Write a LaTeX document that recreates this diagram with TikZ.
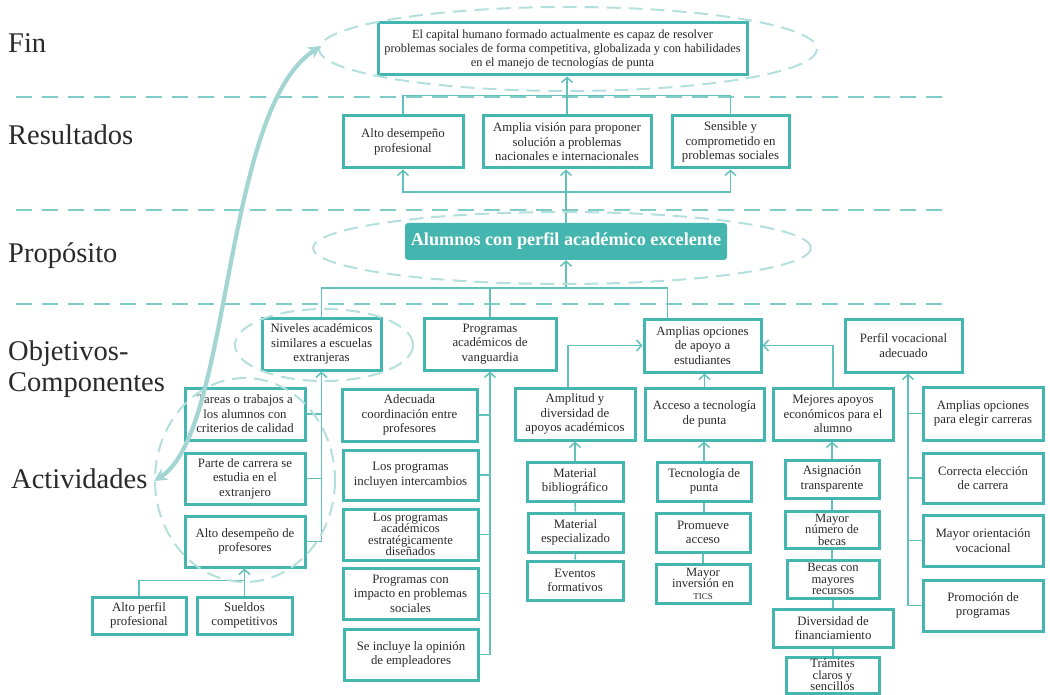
\documentclass[tikz,border=0pt]{standalone}
\usepackage{fontspec}
\setmainfont{Liberation Serif}
\usetikzlibrary{arrows.meta,calc}
\definecolor{boxline}{HTML}{45B6AF}
\definecolor{linkc}{HTML}{62C1BB}
\definecolor{sepc}{HTML}{7ECDC8}
\definecolor{ringc}{HTML}{B3DFDC}
\definecolor{bigc}{HTML}{A3D5D3}
\definecolor{ink}{HTML}{2A2A2A}
\begin{document}
\begin{tikzpicture}[x=1pt,y=-1pt,
  box/.style={draw=boxline,line width=3pt,fill=white,text=ink,align=center,
    inner sep=1pt,font=\fontsize{12.8}{14.5}\selectfont},
  tight/.style={font=\fontsize{12.6}{11.5}\selectfont},
  wh/.style 2 args={minimum width=#1,minimum height=#2},
  conn/.style={draw=linkc,line width=1.5pt},
  arr/.style={-{Straight Barb[length=5pt,width=11pt]}},
  sep/.style={draw=sepc,line width=2.8pt,dash pattern=on 16pt off 10pt},
  ring/.style={draw=ringc,line width=2pt,dash pattern=on 14pt off 8pt},
  lab/.style={font=\fontsize{28.5}{30}\selectfont,text=ink,anchor=base west,inner sep=0pt},
  bigarrow/.style={draw=bigc,line width=4.2pt,
    {Stealth[length=13pt,width=13pt]}-{Stealth[length=13pt,width=13pt]}}
]
\useasboundingbox (0,0) rectangle (1050,695);

% level separators
\foreach \yy in {97,210,304} \draw[sep] (16,\yy) -- (946,\yy);

% level names
\node[lab] (tFin) at (8,53) {Fin};
\node[lab] (tRes) at (8,145) {Resultados};
\node[lab] (tProp) at (8,263) {Propósito};
\node[lab] (tObj) at (8,360) {Objetivos-};
\node[lab] (tComp) at (8,391) {Componentes};
\node[lab] (tAct) at (11,488) {Actividades};

% goal
\node[box,wh={369}{52},font=\fontsize{12.4}{14}\selectfont] (fin) at (562.5,49)
  {El capital humano formado actualmente es capaz de resolver\\problemas sociales de forma competitiva, globalizada y con habilidades\\en el manejo de tecnologías de punta};

% results
\node[box,wh={120}{52}] (res1) at (403,142) {Alto desempeño\\profesional};
\node[box,wh={168}{52}] (res2) at (567,142) {Amplia visión para proponer\\solución a problemas\\nacionales e internacionales};
\node[box,wh={117}{52}] (res3) at (730.5,142) {Sensible y\\comprometido en\\problemas sociales};

% purpose
\node[fill=boxline,rounded corners=3pt,text=white,wh={322}{37},
  font=\fontsize{18.2}{20}\selectfont\bfseries] (prop) at (566,241.5)
  {Alumnos con perfil académico excelente};

% components
\node[box,wh={119}{52}] (obj1) at (321.5,344) {Niveles académicos\\similares a escuelas\\extranjeras};
\node[box,wh={132}{52}] (obj2) at (490,344) {Programas\\académicos de\\vanguardia};
\node[box,wh={117}{53}] (obj3) at (702.5,345.5) {Amplias opciones\\de apoyo a\\estudiantes};
\node[box,wh={117}{53}] (obj4) at (903.5,345.5) {Perfil vocacional\\adecuado};

% activities: academic levels
\node[box,wh={120}{52}] (a1) at (245,414) {Tareas o trabajos a\\los alumnos con\\criterios de calidad};
\node[box,wh={120}{51}] (a2) at (245,478.5) {Parte de carrera se\\estudia en el\\extranjero};
\node[box,wh={120}{51}] (a3) at (245,541.5) {Alto desempeño de\\profesores};
\node[box,wh={94}{37}] (a4) at (139,615.5) {Alto perfil\\profesional};
\node[box,wh={95}{37}] (a5) at (244.5,615.5) {Sueldos\\competitivos};

% activities: programmes
\node[box,wh={135}{52}] (p1) at (409.5,415) {Adecuada\\coordinación entre\\profesores};
\node[box,wh={135}{50}] (p2) at (410.5,475) {Los programas\\incluyen intercambios};
\node[box,tight,wh={135}{51}] (p3) at (410.5,534.5) {Los programas\\académicos\\estratégicamente\\diseñados};
\node[box,wh={135}{51}] (p4) at (410.5,593.5) {Programas con\\impacto en problemas\\sociales};
\node[box,wh={134}{51}] (p5) at (411,654.5) {Se incluye la opinión\\de empleadores};

% activities: support options
\node[box,wh={120}{52}] (c1) at (575,414) {Amplitud y\\diversidad de\\apoyos académicos};
\node[box,wh={96}{39}] (c2) at (575,481.5) {Material\\bibliográfico};
\node[box,wh={95}{39}] (c3) at (575.5,532.5) {Material\\especializado};
\node[box,wh={96}{39}] (c4) at (575,580.5) {Eventos\\formativos};

\node[box,wh={119}{52}] (d1) at (704.5,414) {Acceso a tecnología\\de punta};
\node[box,wh={94}{39}] (d2) at (704,481.5) {Tecnología de\\punta};
\node[box,wh={94}{39}] (d3) at (703,532.5) {Promueve\\acceso};
\node[box,tight,wh={94}{39}] (d4) at (703,583.5) {Mayor\\inversión en\\{\fontsize{9}{9}\selectfont TICS}};

\node[box,wh={120}{52}] (m1) at (833,414) {Mejores apoyos\\económicos para el\\alumno};
\node[box,wh={94}{38}] (m2) at (832,479) {Asignación\\transparente};
\node[box,tight,wh={94}{37}] (m3) at (832,529.5) {Mayor\\número de\\becas};
\node[box,tight,wh={92}{38}] (m4) at (833,579) {Becas con\\mayores\\recursos};
\node[box,wh={120}{38}] (m5) at (833,628) {Diversidad de\\financiamiento};
\node[box,tight,wh={93}{36}] (m6) at (832.5,675) {Trámites\\claros y\\sencillos};

% activities: vocational profile
\node[box,wh={120}{53}] (v1) at (983,413.5) {Amplias opciones\\para elegir carreras};
\node[box,wh={120}{50}] (v2) at (983,478) {Correcta elección\\de carrera};
\node[box,wh={120}{51}] (v3) at (983,540.5) {Mayor orientación\\vocacional};
\node[box,wh={120}{51}] (v4) at (983,605.5) {Promoción de\\programas};

% junction points
\coordinate (hubR) at (567,192);
\coordinate (hubP) at (566,288);
\coordinate (pv) at ($(obj4.south)+(4.5,0)$);

% results -> goal
\draw[conn,arr] (res2.north) -- (res2.north |- fin.south);
\draw[conn] (res1.north) -- ++(0,-19) -| (res3.north);

% purpose -> results
\draw[conn,arr] (prop.north) -- (prop.north |- res2.south);
\draw[conn,arr] (hubR) -| (res1.south);
\draw[conn,arr] (hubR) -| (res3.south);

% components -> purpose
\draw[conn,arr] (hubP) -- (hubP |- prop.south);
\draw[conn] (hubP) -| (obj1.north);
\draw[conn] (hubP) -| (obj2.north);
\draw[conn] (hubP) -| ($(obj3.north)+(-35,0)$);

% academic levels
\draw[conn,arr] (a3.east) -| (obj1.south);
\draw[conn] (a1.east) -- (a1.east -| obj1.south);
\draw[conn] (a2.east) -- (a2.east -| obj1.south);
\draw[conn] (a4.north) -- ++(0,-15) -| (a5.north);
\draw[conn,arr] (a5.north) -- (a5.north |- a3.south);

% programmes
\draw[conn,arr] (p5.east) -| (obj2.south);
\foreach \n in {p1,p2,p3,p4} \draw[conn] (\n.east) -- (\n.east -| obj2.south);

% support options
\draw[conn,arr] ($(c1.north)+(-7,0)$) |- (obj3.west);
\draw[conn,arr] (d1.north) -- (d1.north |- obj3.south);
\draw[conn,arr] (m1.north) |- (obj3.east);
\draw[conn,arr] (c2.north) -- (c2.north |- c1.south);
\draw[conn] (c2.south) -- (c3.north);
\draw[conn] (c3.south) -- (c4.north);
\draw[conn,arr] (d2.north) -- (d2.north |- d1.south);
\draw[conn] (d2.south) -- (d2.south |- d3.north);
\draw[conn] (d3.south) -- (d4.north);
\draw[conn,arr] (m2.north) -- (m2.north |- m1.south);
\draw[conn] (m2.south) -- (m2.south |- m3.north);
\draw[conn] (m3.south) -- (m3.south |- m4.north);
\draw[conn] (m4.south) -- (m4.south |- m5.north);
\draw[conn] (m5.south) -- (m5.south |- m6.north);

% vocational profile
\draw[conn,arr] (v4.west) -| (pv);
\foreach \n in {v1,v2,v3} \draw[conn] (\n.west) -- (\n.west -| pv);

% dashed groupings
\draw[ring] (568,49) ellipse [x radius=249, y radius=42];
\draw[ring] (562,248) ellipse [x radius=249, y radius=36];
\draw[ring] (324,345) ellipse [x radius=89, y radius=36];
\draw[ring] (245,480) ellipse [x radius=90, y radius=102];

% link between activities and goal
\coordinate (actTip) at (154,481);
\coordinate (finTip) at (321,46);
\draw[bigarrow] (actTip) .. controls (232,432) and (222,110) .. (finTip);
\end{tikzpicture}
\end{document}
